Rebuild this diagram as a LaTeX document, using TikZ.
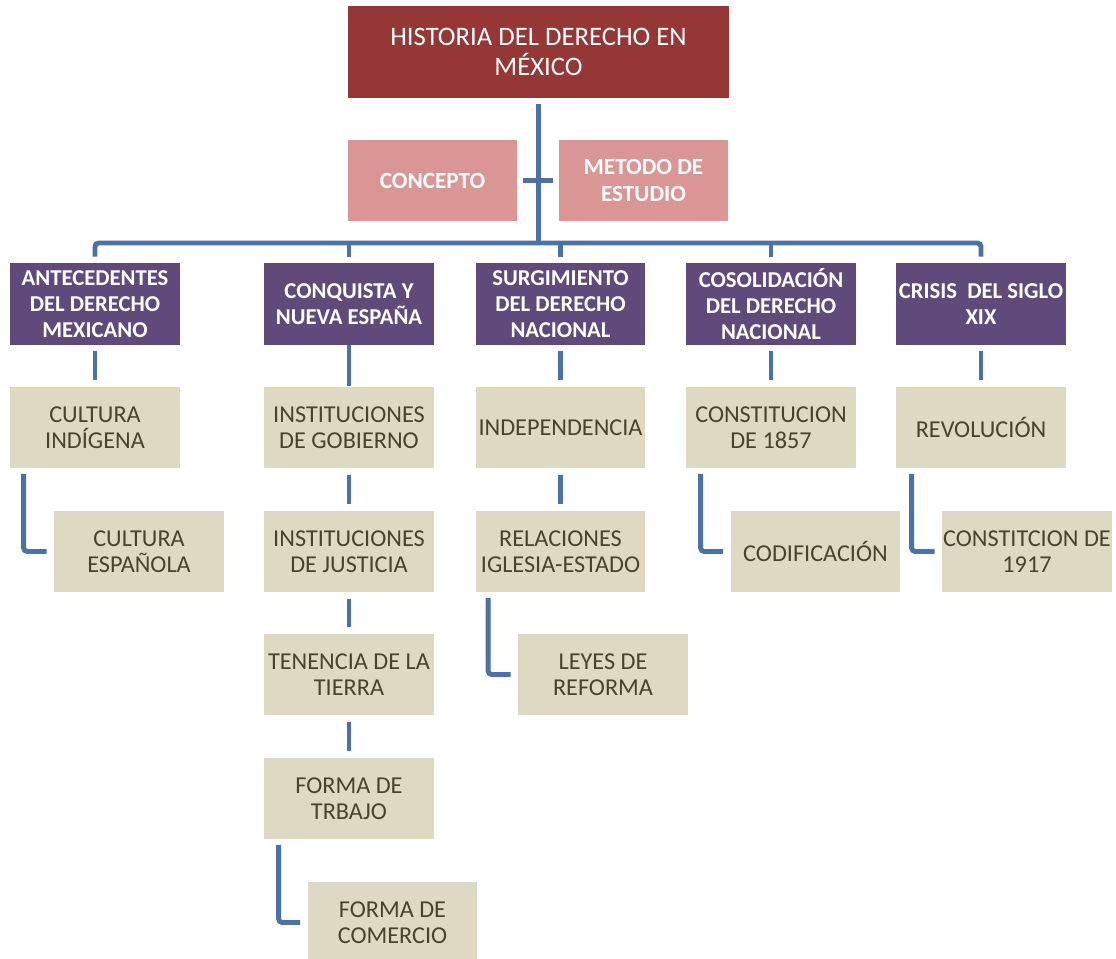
\documentclass[tikz,border=0pt]{standalone}
\usepackage{fontspec}
\setmainfont{Carlito}
\definecolor{titlered}{HTML}{953735}
\definecolor{rose}{HTML}{D99694}
\definecolor{plum}{HTML}{604A7B}
\definecolor{sand}{HTML}{DDD9C3}
\definecolor{olive}{HTML}{48432A}
\definecolor{linkblue}{HTML}{4A71A8}
\tikzstyle{box}=[rectangle, inner sep=0pt, align=center, font=\fontsize{13.8}{14.8}\selectfont, minimum width=3.4cm, minimum height=1.64cm]
\tikzstyle{titlebox}=[box, fill=titlered, text=white, font=\fontsize{15.2}{16.6}\selectfont, minimum width=7.62cm, minimum height=1.84cm]
\tikzstyle{sidebox}=[box, fill=rose, text=white, font=\bfseries\fontsize{13.2}{15.4}\selectfont, minimum width=3.38cm, minimum height=1.62cm]
\tikzstyle{stagebox}=[box, fill=plum, text=white, font=\bfseries\fontsize{12.9}{14.8}\selectfont]
\tikzstyle{topicbox}=[box, fill=sand, text=olive]
\tikzstyle{link}=[draw=linkblue, line width=2.8pt, shorten <=0.12cm, shorten >=0.12cm]
\tikzstyle{elbow}=[link, shorten <=0.1cm, shorten >=0.14cm, rounded corners=2pt]

\begin{document}
\begin{tikzpicture}[x=0.02cm, y=-0.02cm]
        \useasboundingbox (0, 0) rectangle (1116, 959);
        \node[titlebox] (hist) at (538.5, 52) {HISTORIA DEL DERECHO EN\\MÉXICO};
        \node[sidebox]  (conc) at (432.5, 180.5) {CONCEPTO};
        \node[sidebox]  (met)  at (643.5, 180.5) {METODO DE\\ESTUDIO};
        \coordinate (bar) at (538.5, 243);
        % etapas
        \node[stagebox] (ant)  at (95, 304)    {ANTECEDENTES\\DEL DERECHO\\MEXICANO};
        \node[stagebox] (conq) at (349, 304)   {CONQUISTA Y\\NUEVA ESPAÑA};
        \node[stagebox] (surg) at (560.5, 304) {SURGIMIENTO\\DEL DERECHO\\NACIONAL};
        \node[stagebox] (cons) at (771, 304)   {COSOLIDACIÓN\\DEL DERECHO\\NACIONAL};
        \node[stagebox] (cris) at (981, 304)   {CRISIS\ \ DEL SIGLO\\XIX};
        % temas
        \node[topicbox] (indig) at (95, 427.5)    {CULTURA\\INDÍGENA};
        \node[topicbox] (espa)  at (139, 551.5)   {CULTURA\\ESPAÑOLA};
        \node[topicbox] (gob)   at (349, 427.5)   {INSTITUCIONES\\DE GOBIERNO};
        \node[topicbox] (just)  at (349, 551.5)   {INSTITUCIONES\\DE JUSTICIA};
        \node[topicbox] (tierra) at (349, 674.5)  {TENENCIA DE LA\\TIERRA};
        \node[topicbox] (trab)  at (349, 798.5)   {FORMA DE\\TRBAJO};
        \node[topicbox] (comer) at (392.5, 922.5) {FORMA DE\\COMERCIO};
        \node[topicbox] (indep) at (560.5, 427.5) {INDEPENDENCIA};
        \node[topicbox] (igle)  at (560.5, 551.5) {RELACIONES\\IGLESIA-ESTADO};
        \node[topicbox] (leyes) at (603, 674.5)   {LEYES DE\\REFORMA};
        \node[topicbox] (c1857) at (771, 427.5)   {CONSTITUCION\\DE 1857};
        \node[topicbox] (codif) at (815.5, 551.5) {CODIFICACIÓN};
        \node[topicbox] (revol) at (981, 427.5)   {REVOLUCIÓN};
        \node[topicbox] (c1917) at (1027, 551.5)  {CONSTITCION DE\\1917};
        % conectores
        \draw[link, shorten >=0pt] (hist) -- (bar);
        \draw[link] (conc) -- (met);
        \draw[link, rounded corners=2pt] (ant) |- (bar) -| (cris);
        \draw[link, shorten <=0pt] (conq |- bar) -- (conq);
        \draw[link, shorten <=0pt] (surg |- bar) -- (surg);
        \draw[link, shorten <=0pt] (cons |- bar) -- (cons);
        \draw[link] (ant) -- (indig);
        \draw[link] (conq) -- (gob) -- (just);
        \draw[link] (just) -- (tierra);
        \draw[link] (tierra) -- (trab);
        \draw[link] (surg) -- (indep);
        \draw[link] (indep) -- (igle);
        \draw[link] (cons) -- (c1857);
        \draw[link] (cris) -- (revol);
        \draw[elbow] ([xshift=0.28cm]indig.south west) |- (espa.west);
        \draw[elbow] ([xshift=0.3cm]trab.south west) |- (comer.west);
        \draw[elbow] ([xshift=0.26cm]igle.south west) |- (leyes.west);
        \draw[elbow] ([xshift=0.3cm]c1857.south west) |- (codif.west);
        \draw[elbow] ([xshift=0.32cm]revol.south west) |- (c1917.west);
    \end{tikzpicture}
\end{document}
